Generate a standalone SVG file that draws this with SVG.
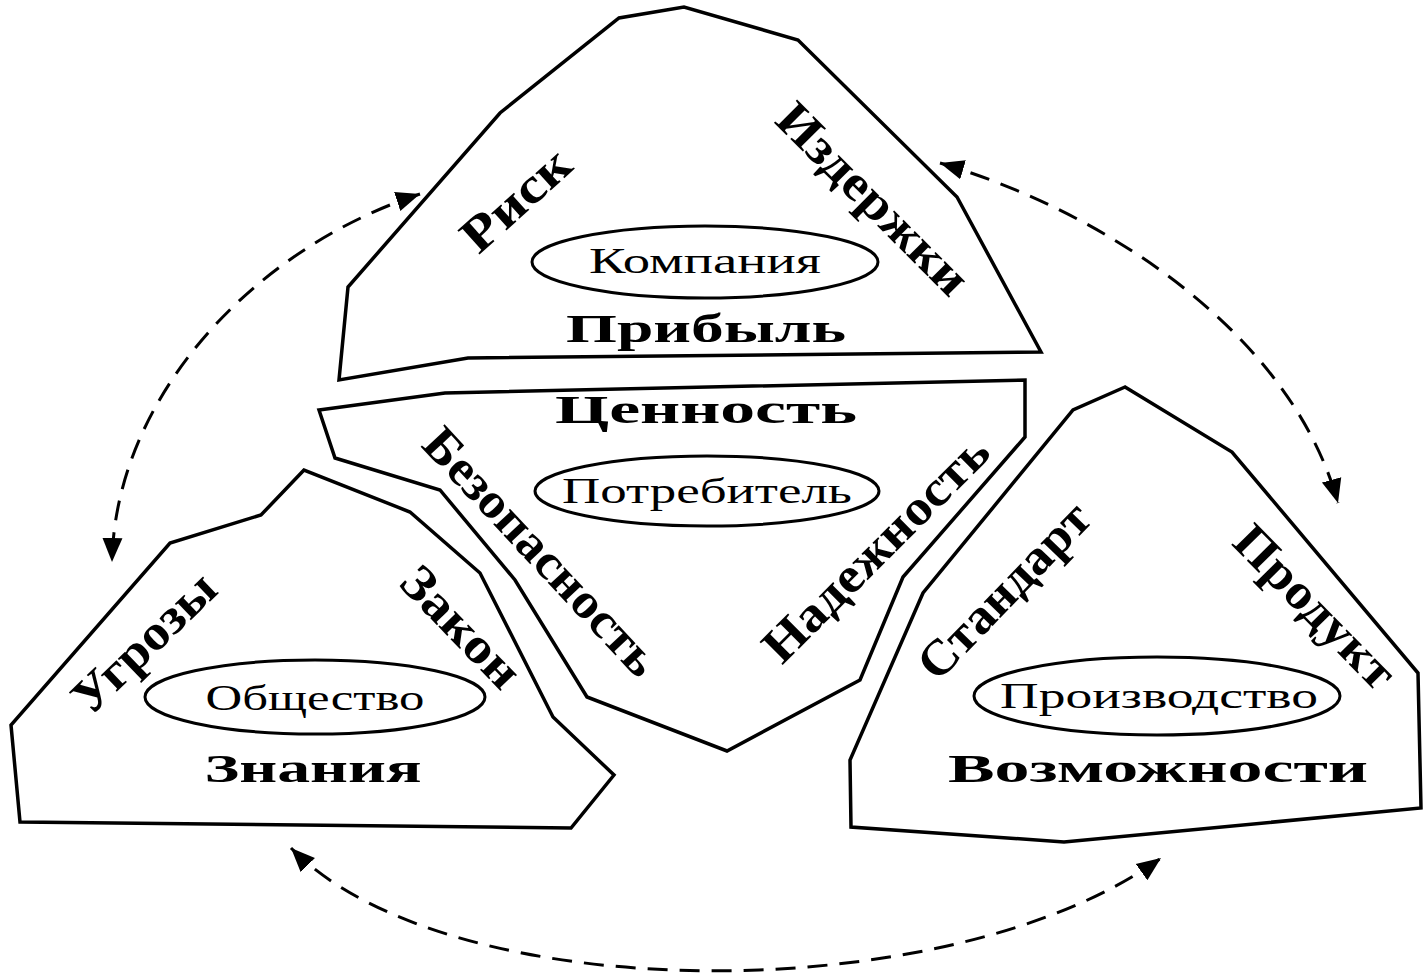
<svg xmlns="http://www.w3.org/2000/svg" width="1425" height="977" viewBox="0 0 1425 977">
<style>
.shape{fill:#fff;stroke:#000;stroke-width:3.5;stroke-linejoin:miter}
.ell{fill:#fff;stroke:#000;stroke-width:3}
.b{font-family:"Liberation Serif","Times New Roman",serif;font-weight:bold;font-size:41px;fill:#000}
.rot{font-family:"Liberation Serif","Times New Roman",serif;font-weight:bold;font-size:50px;fill:#000}
.r{font-family:"Liberation Serif","Times New Roman",serif;font-size:35px;fill:#000}
.arc{fill:none;stroke:#000;stroke-width:3;stroke-dasharray:20 12}
</style>
<defs>
<marker id="ah" markerUnits="userSpaceOnUse" markerWidth="26" markerHeight="22" refX="24" refY="11" orient="auto-start-reverse">
<path d="M0,1 L24,11 L0,21 Z" fill="#000"/>
</marker>
</defs>
<rect width="1425" height="977" fill="#fff"/>
<g id="connectors">
<path class="arc" d="M420,194 C250,250 115,400 112,562" marker-start="url(#ah)" marker-end="url(#ah)"/>
<path class="arc" d="M940,163 C1100,210 1290,330 1338,503" marker-start="url(#ah)" marker-end="url(#ah)"/>
<path class="arc" d="M291,848 C450,1010 950,1010 1161,858" marker-start="url(#ah)" marker-end="url(#ah)"/>
</g>
<g id="company">
<path class="shape" d="M339,380 L348,287 L500,113 L619,18 L684,7 L798,40 L957,197 L1041,352 L468,358 Z"/>
<ellipse class="ell" cx="705" cy="262" rx="173" ry="36"/>
<text class="r" x="705" y="273" text-anchor="middle" textLength="232" lengthAdjust="spacingAndGlyphs">Компания</text>
<text class="b" x="706" y="342" text-anchor="middle" textLength="280" lengthAdjust="spacingAndGlyphs">Прибыль</text>
<text class="rot" transform="translate(515,199) rotate(-42)" text-anchor="middle" dy="0.35em" textLength="130" lengthAdjust="spacingAndGlyphs">Риск</text>
<text class="rot" transform="translate(874,198) rotate(45)" text-anchor="middle" dy="0.35em" textLength="250" lengthAdjust="spacingAndGlyphs">Издержки</text>
</g>
<g id="consumer">
<path class="shape" d="M319,410 L445,393 L1025,380 L1025,437 L903,577 L860,680 L727,751 L587,697 L515,580 L440,490 L335,458 Z"/>
<ellipse class="ell" cx="707" cy="491" rx="172" ry="35"/>
<text class="r" x="707" y="503" text-anchor="middle" textLength="290" lengthAdjust="spacingAndGlyphs">Потребитель</text>
<text class="b" x="706" y="423" text-anchor="middle" textLength="302" lengthAdjust="spacingAndGlyphs">Ценность</text>
<text class="rot" transform="translate(542,551) rotate(47)" text-anchor="middle" dy="0.35em" textLength="320" lengthAdjust="spacingAndGlyphs">Безопасность</text>
<text class="rot" transform="translate(875,548) rotate(-45)" text-anchor="middle" dy="0.35em" textLength="298" lengthAdjust="spacingAndGlyphs">Надежность</text>
</g>
<g id="society">
<path class="shape" d="M304,470 L261,515 L170,543 L11,725 L20,822 L571,828 L614,775 L553,717 L480,573 L410,512 Z"/>
<ellipse class="ell" cx="315" cy="697" rx="170" ry="37"/>
<text class="r" x="315" y="710" text-anchor="middle" textLength="219" lengthAdjust="spacingAndGlyphs">Общество</text>
<text class="b" x="313" y="782" text-anchor="middle" textLength="217" lengthAdjust="spacingAndGlyphs">Знания</text>
<text class="rot" transform="translate(143,642) rotate(-44)" text-anchor="middle" dy="0.35em" textLength="180" lengthAdjust="spacingAndGlyphs">Угрозы</text>
<text class="rot" transform="translate(462,626) rotate(46)" text-anchor="middle" dy="0.35em" textLength="150" lengthAdjust="spacingAndGlyphs">Закон</text>
</g>
<g id="production">
<path class="shape" d="M1125,387 L1073,410 L923,593 L850,760 L851,827 L1064,842 L1421,808 L1418,673 L1232,452 Z"/>
<ellipse class="ell" cx="1157" cy="696" rx="183" ry="39"/>
<text class="r" x="1159" y="708" text-anchor="middle" textLength="318" lengthAdjust="spacingAndGlyphs">Производство</text>
<text class="b" x="1158" y="782" text-anchor="middle" textLength="420" lengthAdjust="spacingAndGlyphs">Возможности</text>
<text class="rot" transform="translate(1003,590) rotate(-46)" text-anchor="middle" dy="0.35em" textLength="225" lengthAdjust="spacingAndGlyphs">Стандарт</text>
<text class="rot" transform="translate(1316,606) rotate(45.5)" text-anchor="middle" dy="0.35em" textLength="208" lengthAdjust="spacingAndGlyphs">Продукт</text>
</g>
</svg>
